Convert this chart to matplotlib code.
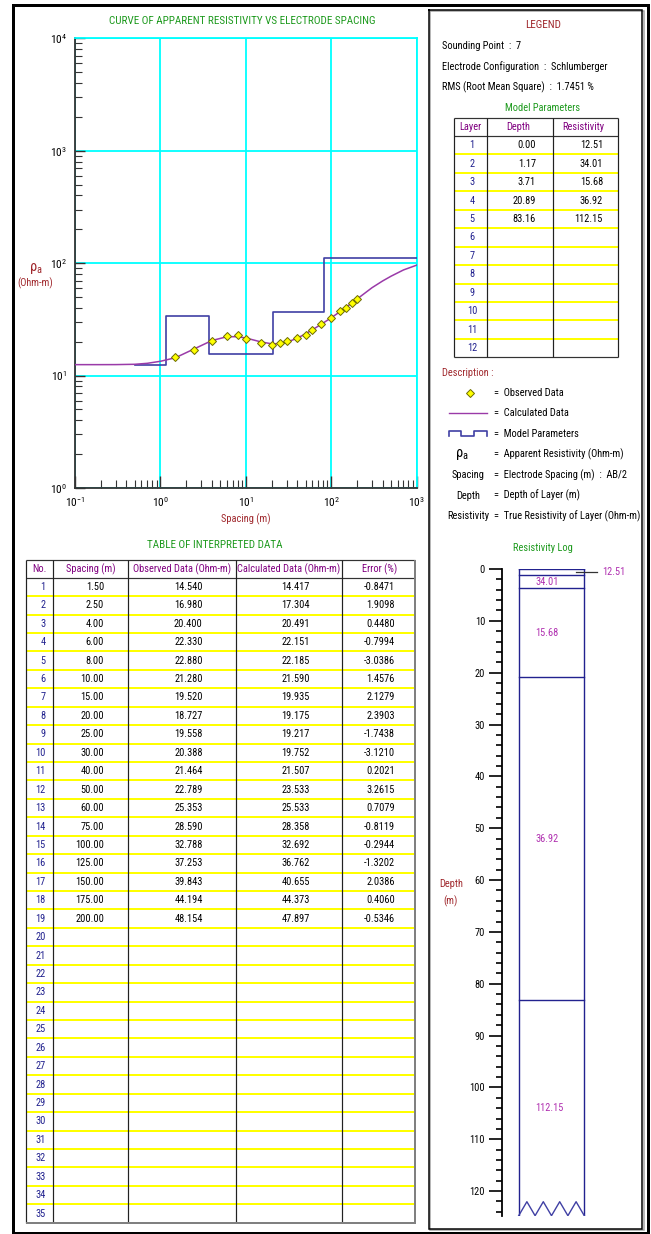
import matplotlib
matplotlib.use("Agg")
import matplotlib.pyplot as plt
from matplotlib import font_manager
from matplotlib.ticker import LogLocator, LogFormatterMathtext, MultipleLocator, NullFormatter

# ---------------------------------------------------------------- data
sounding_point = 7
electrode_config = "Schlumberger"
rms_percent = 1.7451

spacing = [1.5, 2.5, 4, 6, 8, 10, 15, 20, 25, 30, 40, 50, 60, 75, 100, 125, 150, 175, 200]
observed = [14.540, 16.980, 20.400, 22.330, 22.880, 21.280, 19.520, 18.727, 19.558, 20.388,
            21.464, 22.789, 25.353, 28.590, 32.788, 37.253, 39.843, 44.194, 48.154]
calculated = [14.417, 17.304, 20.491, 22.151, 22.185, 21.590, 19.935, 19.175, 19.217, 19.752,
              21.507, 23.533, 25.533, 28.358, 32.692, 36.762, 40.655, 44.373, 47.897]
error_pct = [-0.8471, 1.9098, 0.4480, -0.7994, -3.0386, 1.4576, 2.1279, 2.3903, -1.7438, -3.1210,
             0.2021, 3.2615, 0.7079, -0.8119, -0.2944, -1.3202, 2.0386, 0.4060, -0.5346]

# calculated apparent resistivity curve over the full spacing range
curve_ab2 = [0.1, 0.2, 0.3, 0.5, 0.7, 1.0, 1.5, 2.5, 4, 6, 8, 10, 15, 20, 25, 30, 40, 50, 60,
             75, 100, 125, 150, 175, 200, 300, 400, 500, 700, 1000]
curve_rho = [12.51, 12.51, 12.52, 12.60, 12.85, 13.40, 14.417, 17.304, 20.491, 22.151, 22.185,
             21.590, 19.935, 19.175, 19.217, 19.752, 21.507, 23.533, 25.533, 28.358, 32.692,
             36.762, 40.655, 44.373, 47.897, 60.5, 69.5, 76.5, 87.0, 96.0]

# layered earth model
layer_no = list(range(1, 13))
layer_depth = [0.00, 1.17, 3.71, 20.89, 83.16]
layer_res = [12.51, 34.01, 15.68, 36.92, 112.15]
model_start_ab2 = 0.5
spacing_max = 1000

# ---------------------------------------------------------------- style
W, H = 651, 1234
available = {f.name for f in font_manager.fontManager.ttflist}
narrow = [f for f in ['Liberation Sans Narrow', 'Roboto Condensed', 'Open Sans Condensed',
                      'Arial Narrow'] if f in available]
if narrow:
    FONT = [narrow[0], 'DejaVu Sans']
    FS, FS_HEAD = 7.5, 8
else:
    FONT = [f for f in ['Liberation Sans', 'DejaVu Sans'] if f in available]
    FS, FS_HEAD = 6.3, 6.8
plt.rcParams['font.family'] = FONT
plt.rcParams['mathtext.fontset'] = 'custom'
plt.rcParams['mathtext.rm'] = FONT[0]
plt.rcParams['mathtext.it'] = FONT[0]
plt.rcParams['axes.unicode_minus'] = False

DARKRED = '#A0282D'
GREEN = '#1E9A1E'
PURPLE = '#800080'
NAVY = '#22228F'
MAGENTA = '#B030B0'
YELLOW = '#FFFF00'
CYAN = '#00FFFF'
MODEL_BLUE = '#4040A4'
CURVE_PURPLE = '#9A3AA8'
PX = 0.72  # points per pixel at 100 dpi


def fig_rect(x0, y0, x1, y1):
    return [x0 / W, 1 - y1 / H, (x1 - x0) / W, (y1 - y0) / H]


fig = plt.figure(figsize=(W / 100, H / 100), dpi=100)
fig.patch.set_facecolor('white')

# overlay in pixel coordinates for frames, tables and text blocks
ov = fig.add_axes([0, 0, 1, 1])
ov.set_xlim(0, W)
ov.set_ylim(H, 0)
ov.axis('off')


def hline(y, x0, x1, color='black', lw=1.0, z=2):
    ov.plot([x0, x1], [y, y], color=color, lw=lw * PX, solid_capstyle='butt', zorder=z)


def vline(x, y0, y1, color='black', lw=1.0, z=2):
    ov.plot([x, x], [y0, y1], color=color, lw=lw * PX, solid_capstyle='butt', zorder=z)


def box(x0, y0, x1, y1, color='black', lw=1.0):
    ov.plot([x0, x1, x1, x0, x0], [y0, y0, y1, y1, y0], color=color, lw=lw * PX,
            solid_joinstyle='miter', zorder=3)


# outer frame and legend panel frame
box(13, 4.5, 647.5, 1232.5, lw=3)
box(430, 11, 643.5, 1230, color='#A0A0A0', lw=1.5)
box(428.5, 9.5, 641.5, 1228.5, lw=1.5)

# ---------------------------------------------------------------- sounding curve
ax = fig.add_axes(fig_rect(75, 38.3, 416.7, 488))
ax.set_xscale('log')
ax.set_yscale('log')
ax.set_xlim(0.1, spacing_max)
ax.set_ylim(1, 1e4)
ax.grid(True, which='major', color=CYAN, lw=1.3)
ax.grid(False, which='minor')
ax.set_axisbelow(True)
for s in ('top', 'right'):
    ax.spines[s].set_color(CYAN)
    ax.spines[s].set_linewidth(1.3)
for s in ('left', 'bottom'):
    ax.spines[s].set_color('#333333')
    ax.spines[s].set_linewidth(1.3)
for axis in (ax.xaxis, ax.yaxis):
    axis.set_major_locator(LogLocator(base=10, numticks=10))
    axis.set_minor_locator(LogLocator(base=10, subs=range(2, 10), numticks=20))
    axis.set_major_formatter(LogFormatterMathtext())
    axis.set_minor_formatter(NullFormatter())
ax.tick_params(which='both', direction='in', top=False, right=False, color='#333333',
               labelsize=8.2)
ax.tick_params(axis='x', which='major', length=8.5, width=1, pad=5.5)
ax.tick_params(axis='x', which='minor', length=5.5, width=0.8)
ax.tick_params(axis='y', which='major', length=7.2, width=1, pad=6)
ax.tick_params(axis='y', which='minor', length=4.8, width=0.8)

step_x = [model_start_ab2] + layer_depth[1:] + [spacing_max]
step_y = layer_res + [layer_res[-1]]
ax.step(step_x, step_y, where='post', color=MODEL_BLUE, lw=1.2, zorder=3)
ax.plot(curve_ab2, curve_rho, color=CURVE_PURPLE, lw=1.1, zorder=4)
ax.plot(spacing, observed, ls='none', marker='D', ms=4.0, mfc=YELLOW, mec='#6B6B00',
        mew=0.7, zorder=5)

ov.text(242, 21, 'CURVE OF APPARENT RESISTIVITY VS ELECTRODE SPACING', color=GREEN,
        fontsize=FS_HEAD, ha='center', va='center')
ov.text(246, 519, 'Spacing (m)', color=DARKRED, fontsize=FS, ha='center', va='center')
ov.text(35.5, 268, r'$\rho_a$', color=DARKRED, fontsize=10.5, ha='center', va='center')
ov.text(35.5, 283, '(Ohm-m)', color=DARKRED, fontsize=FS, ha='center', va='center')

# ---------------------------------------------------------------- interpreted data table
ov.text(215, 545, 'TABLE OF INTERPRETED DATA', color=GREEN, fontsize=FS_HEAD, ha='center',
        va='center')
t_cols = [25.7, 53.3, 128.3, 235.7, 342.3, 415]
t_top, t_head, row_h, n_rows = 560, 577.7, 18.43, 35
t_bot = t_head + n_rows * row_h
for i in range(1, n_rows):
    hline(t_head + i * row_h, t_cols[0], t_cols[-1], color=YELLOW, lw=2)
hline(t_head, t_cols[0], t_cols[-1], color='#333333', lw=1.2)
hline(t_top, t_cols[0], t_cols[-1], color='#333333', lw=1.2)
for x in t_cols[:-1]:
    vline(x, t_top, t_bot, color='#222222', lw=1.2)
vline(t_cols[-1], t_top, t_bot, color='#808080', lw=2)
hline(t_bot, t_cols[0], t_cols[-1] + 1, color='#808080', lw=2)

headers = ['No.', 'Spacing (m)', 'Observed Data (Ohm-m)', 'Calculated Data (Ohm-m)', 'Error (%)']
head_x = [39.5, 91, 182, 288.7, 380]
for hx, h in zip(head_x, headers):
    ov.text(hx, (t_top + t_head) / 2, h, color=PURPLE, fontsize=FS, ha='center', va='center')

for i in range(n_rows):
    yc = t_head + (i + 0.5) * row_h
    ov.text(45.5, yc, str(i + 1), color=NAVY, fontsize=FS, ha='right', va='center')
    if i < len(spacing):
        ov.text(104, yc, f'{spacing[i]:.2f}', fontsize=FS, ha='right', va='center')
        ov.text(202.7, yc, f'{observed[i]:.3f}', fontsize=FS, ha='right', va='center')
        ov.text(310, yc, f'{calculated[i]:.3f}', fontsize=FS, ha='right', va='center')
        ov.text(395, yc, f'{error_pct[i]:.4f}', fontsize=FS, ha='right', va='center')

# ---------------------------------------------------------------- legend panel
ov.text(543, 25, 'LEGEND', color=DARKRED, fontsize=FS_HEAD, ha='center', va='center')
ov.text(441.7, 46, f'Sounding Point  :  {sounding_point}', fontsize=FS, va='center')
ov.text(441.7, 66.7, f'Electrode Configuration  :  {electrode_config}', fontsize=FS,
        va='center')
ov.text(441.7, 87.3, f'RMS (Root Mean Square)  :  {rms_percent:.4f} %', fontsize=FS,
        va='center')
ov.text(543, 108.3, 'Model Parameters', color=GREEN, fontsize=FS, ha='center', va='center')

m_cols = [454.3, 486.7, 553.3, 618.3]
m_top, m_head, m_rh = 118.3, 136, 18.44
m_bot = m_head + len(layer_no) * m_rh
for i in range(1, len(layer_no)):
    hline(m_head + i * m_rh, m_cols[0], m_cols[-1], color=YELLOW, lw=2)
hline(m_head, m_cols[0], m_cols[-1], color='#333333', lw=1.2)
hline(m_top, m_cols[0], m_cols[-1], color='#333333', lw=1.2)
hline(m_bot, m_cols[0], m_cols[-1], color='#333333', lw=1.2)
for x in m_cols:
    vline(x, m_top, m_bot, color='#222222', lw=1.2)
for hx, h in zip([470.5, 518, 583], ['Layer', 'Depth', 'Resistivity']):
    ov.text(hx, (m_top + m_head) / 2, h, color=PURPLE, fontsize=FS, ha='center', va='center')
for i, n in enumerate(layer_no):
    yc = m_head + (i + 0.5) * m_rh
    ov.text(472, yc, str(n), color=NAVY, fontsize=FS, ha='center', va='center')
    if i < len(layer_depth):
        ov.text(536, yc, f'{layer_depth[i]:.2f}', fontsize=FS, ha='right', va='center')
        ov.text(603, yc, f'{layer_res[i]:.2f}', fontsize=FS, ha='right', va='center')

ov.text(441.7, 372.7, 'Description :', color=DARKRED, fontsize=FS, va='center')
desc_y = [393, 413.3, 433.7, 454.3, 475, 495.7, 516]
desc_txt = ['Observed Data', 'Calculated Data', 'Model Parameters',
            'Apparent Resistivity (Ohm-m)', 'Electrode Spacing (m)  :  AB/2',
            'Depth of Layer (m)', 'True Resistivity of Layer (Ohm-m)']
for y, t in zip(desc_y, desc_txt):
    ov.text(494.5, y, '=  ' + t, fontsize=FS, va='center')
ov.plot([470], [desc_y[0]], ls='none', marker='D', ms=3.8, mfc=YELLOW, mec='#6B6B00', mew=0.7)
ov.plot([449, 487], [desc_y[1]] * 2, color=CURVE_PURPLE, lw=1.0)
g = desc_y[2]
ov.plot([449, 449, 461, 461, 474, 474, 487, 487],
        [g + 2, g - 2.5, g - 2.5, g + 2.5, g + 2.5, g - 2.5, g - 2.5, g + 2],
        color=MODEL_BLUE, lw=1.2)
ov.text(462, desc_y[3], r'$\rho_a$', fontsize=10.5, ha='center', va='center')
for y, t in zip(desc_y[4:], ['Spacing', 'Depth', 'Resistivity']):
    ov.text(468.5, y, t, fontsize=FS, ha='center', va='center')

# ---------------------------------------------------------------- resistivity log
ov.text(542.5, 548.3, 'Resistivity Log', color=GREEN, fontsize=FS, ha='center', va='center')
ov.text(451, 884, 'Depth', color=DARKRED, fontsize=FS, ha='center', va='center')
ov.text(451, 901, '(m)', color=DARKRED, fontsize=FS, ha='center', va='center')

log_bottom = 1.5 * layer_depth[-1]
lg = fig.add_axes(fig_rect(502.3, 569, 640, 1215.7))
lg.set_xlim(0, 1)
lg.set_ylim(log_bottom, 0)
lg.patch.set_alpha(0)
for s in ('top', 'right', 'bottom'):
    lg.spines[s].set_visible(False)
lg.spines['left'].set_linewidth(1.3)
lg.yaxis.set_major_locator(MultipleLocator(10))
lg.yaxis.set_minor_locator(MultipleLocator(2))
lg.set_xticks([])
lg.tick_params(axis='y', which='both', direction='out', labelsize=FS, width=1.2)
lg.tick_params(axis='y', which='major', length=9.4, pad=3)
lg.tick_params(axis='y', which='minor', length=4.5)

COL_L, COL_R = 0.119, 0.5955
zig_depth = 2.7
lg.plot([COL_L, COL_L], [0, log_bottom], color=NAVY, lw=1.0)
lg.plot([COL_R, COL_R], [0, log_bottom], color=NAVY, lw=1.0)
for d in layer_depth:
    lg.plot([COL_L, COL_R], [d, d], color=NAVY, lw=1.0)
zx = [COL_L + k * (COL_R - COL_L) / 8 for k in range(9)]
zy = [log_bottom - (zig_depth if k % 2 else 0) for k in range(9)]
lg.plot(zx, zy, color=MODEL_BLUE, lw=1.0)

layer_bot = layer_depth[1:] + [log_bottom]
for i, (top, bot, r) in enumerate(zip(layer_depth, layer_bot, layer_res)):
    mid = (top + bot) / 2
    if i == 0:
        lg.plot([0.534, 0.686], [mid, mid], color='#333333', lw=0.9)
        lg.text(0.722, mid, f'{r:.2f}', color=MAGENTA, fontsize=FS, va='center')
    else:
        lg.text(0.2375, mid, f'{r:.2f}', color=MAGENTA, fontsize=FS, va='center')

fig.savefig('out.png', dpi=100, facecolor='white')
